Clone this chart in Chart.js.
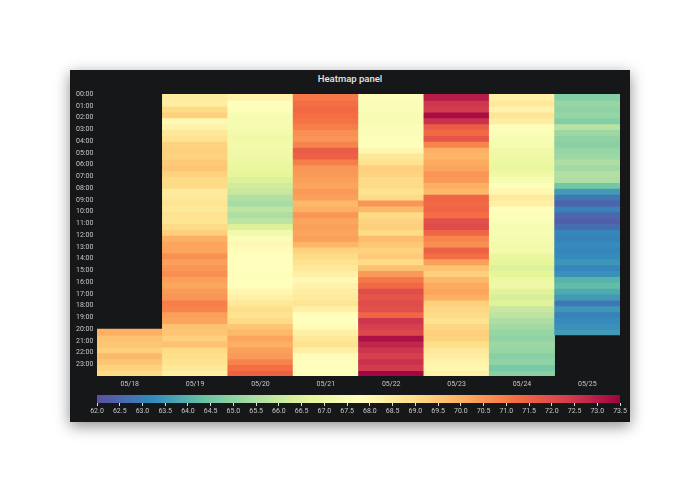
<!DOCTYPE html>
<html><head><meta charset="utf-8">
<script src="https://cdn.jsdelivr.net/npm/chart.js@4"></script>
<style>
body{margin:0;background:#fff;width:690px;height:493px;position:relative;overflow:hidden;font-family:Roboto,sans-serif}
#panel{position:absolute;left:70px;top:70px;width:560px;height:352px;background:#161719;box-shadow:0 4px 14px rgba(0,0,0,0.45)}
#title{position:absolute;left:0;width:560px;top:3px;text-align:center;color:#e6e6e6;font-size:9.5px;font-weight:500}
#c1{position:absolute;left:0;top:18px}
#c2{position:absolute;left:0;top:320px}
</style></head><body>
<div id="panel"><div id="title">Heatmap panel</div>
<div id="c1"><canvas id="main" width="560" height="302"></canvas></div>
<div id="c2"><canvas id="bar" width="560" height="32"></canvas></div>
</div>
<script>
const days=["05/18","05/19","05/20","05/21","05/22","05/23","05/24","05/25"];
const startHour=[20,0,0,0,0,0,0,0];
const d0518=[70,69.6,69.5,69.3,69.8,69.5,69.2,69];
const d0519=[68.5,68.4,69,69.3,68,68.2,68.6,68.8,69.2,69.3,69.2,69.4,69.5,69.2,69,69,68.5,68.6,68.7,68.6,68.8,68.7,69,69.3,70,70.2,70.2,70.6,70.3,70.5,70.6,70.3,70.2,70.4,70.5,70.9,70.8,70.3,70.2,69.6,69.5,69.3,69.6,69,68.9,68.8,68.6,68.3];
const d0520=[68.2,67.8,67.6,67.4,67.3,67.3,67.2,67.1,67.2,67.1,67,66.9,66.8,66.7,66.4,66.2,66,65.6,65.4,65.8,65.5,65.8,66.4,67.2,67.5,68,67.9,67.8,67.7,67.8,67.6,67.7,67.8,68.1,68.3,68.6,68.9,68.8,69,69.5,69.8,70.2,70,70.3,70.4,70.8,71.2,71.5];
const d0521=[71,71.2,71.3,71.2,71.1,70.9,70.6,70.5,70.8,71.6,71.5,70.9,70.5,70.4,70.3,70.2,70.4,70.3,69.8,70,70.5,70.2,70.3,70.2,70.3,69.9,69.2,69,68.8,68.6,68.3,68,68.2,68.4,68.5,68.7,68.3,67.8,67.7,67.9,68.3,68.6,68.8,68.3,67.9,67.8,67.7,67.8];
const d0522=[67.6,67.5,67.5,67.4,67.4,67.5,67.5,67.6,67.7,68.1,68.6,68.8,69.3,69.2,69,69,68.8,69,70.5,69.8,69,69.2,69.3,69,69.7,69.5,69.2,69.4,69,69.6,70.4,71,71.3,72,71.8,72,71.9,71.4,72.5,72.3,72.1,73.2,72.8,72.5,72.3,72.6,72.4,73.4];
const d0523=[73,72.5,72.4,73.3,72.6,71.6,71.3,71.8,70.8,70,69.9,70.1,70.2,70.5,70.4,70,69.8,71.4,71.3,71.4,71.2,71.9,72,71.4,70.8,70.6,71.5,71.2,70.3,69.6,69.3,69.8,70.1,70.2,70,69.3,69.1,69,68.8,69.1,69.3,69.2,68.9,68.6,68.4,68.2,68.1,68.3];
const d0524=[68.3,68.6,68.2,68.7,68.4,67.6,67.5,67.4,67.3,67.1,67,66.9,66.8,67.1,67.4,67.6,68.1,68.5,68.3,67.8,67.6,67.5,67.4,67.4,67.3,67.2,67.2,66.8,66.7,66.4,66.6,66.9,67,66.5,66.3,66.5,66,65.8,65.5,65.3,65.1,65,65.2,65.1,64.9,65,64.6,64.9];
const d0525=[64.8,65.1,65,65.1,64.8,65.7,65.2,65,64.9,65.1,65.2,65.5,65.3,65.6,65.5,64.5,63.5,62.8,62.4,63,62.5,62.3,62.6,63.1,63,63.2,63.1,63.2,63.4,63.1,63.3,64,64.2,63.8,63.5,62.8,63.4,63,63.2,63.3,63.5];
const series=[d0518,d0519,d0520,d0521,d0522,d0523,d0524,d0525];
const vMin=62, vMax=73.5;

const stops=["#5e4fa2","#3288bd","#66c2a5","#abdda4","#e6f598","#ffffbf","#fee08b","#fdae61","#f46d43","#d53e4f","#9e0142"];
function hex(h){return [1,3,5].map(i=>parseInt(h.substr(i,2),16));}
const S=stops.map(hex);
function color(v){
  let t=Math.max(0,Math.min(1,(v-vMin)/(vMax-vMin)))*(S.length-1);
  let i=Math.min(S.length-2,Math.floor(t)),f=t-i;
  const c=S[i].map((a,k)=>Math.round(a+(S[i+1][k]-a)*f));
  return `rgb(${c[0]},${c[1]},${c[2]})`;
}
const tc="#c8c8c8", fnt={size:7,family:"Roboto"};
const datasets=[];
for(let r=0;r<48;r++){
  const data=[],bg=[];
  series.forEach((s,ci)=>{
    const idx=r-startHour[ci]*2;
    const last=idx===s.length-1;
    if(idx>=0&&idx<s.length){data.push([r/2,r/2+(last?0.5:0.54)]);bg.push(color(s[idx]));}
    else {data.push(null);bg.push("rgba(0,0,0,0)");}
  });
  datasets.push({data,backgroundColor:bg,borderWidth:0,barPercentage:1,categoryPercentage:1,grouped:false});
}
new Chart(document.getElementById("main"),{type:"bar",data:{labels:days,datasets},
 options:{responsive:false,animation:false,layout:{padding:{left:6,right:10,top:6,bottom:0}},
 plugins:{legend:{display:false},tooltip:{enabled:false}},
 scales:{
  x:{grid:{display:false,drawTicks:false},border:{display:false},ticks:{color:tc,font:fnt,maxRotation:0,padding:4},afterFit:a=>{a.height=14;}},
  y:{type:"linear",reverse:true,min:0,max:24,grid:{display:false,drawTicks:false},border:{display:false},
     ticks:{stepSize:1,color:tc,font:fnt,padding:0,crossAlign:"far",callback:v=>v<24?String(v).padStart(2,"0")+":00":""},afterFit:a=>{a.width=21;}}
 }}});

const cbVals=[];for(let v=62;v<73.5-1e-9;v+=0.05)cbVals.push(+v.toFixed(2));
new Chart(document.getElementById("bar"),{type:"bar",data:{labels:["s"],
 datasets:cbVals.map(v=>({data:[[v,v+0.06]],backgroundColor:color(v+0.025),borderWidth:0,barPercentage:1,categoryPercentage:1,grouped:false}))},
 options:{indexAxis:"y",responsive:false,animation:false,layout:{padding:{left:27,right:10,top:5,bottom:0}},
 plugins:{legend:{display:false},tooltip:{enabled:false}},
 scales:{y:{display:false},
  x:{type:"linear",min:62,max:73.5,grid:{display:true,drawOnChartArea:false,drawTicks:true,tickLength:3,color:"#ddd"},border:{display:false},
     ticks:{stepSize:0.5,color:tc,font:fnt,padding:1,maxRotation:0,autoSkip:false,callback:v=>Number(v).toFixed(1)},afterFit:a=>{a.height=19;}}
 }}});
</script></body></html>
